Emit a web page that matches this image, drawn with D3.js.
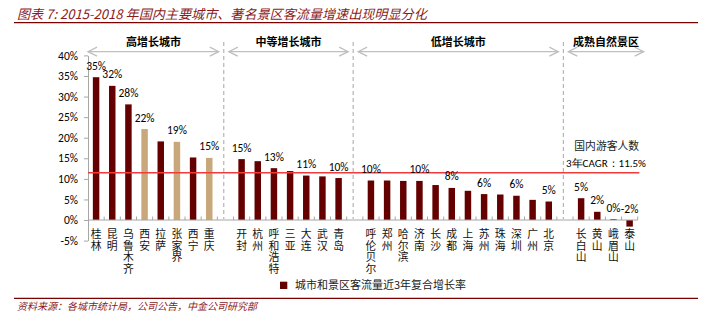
<!DOCTYPE html>
<html><head><meta charset="utf-8">
<script src="https://cdn.jsdelivr.net/npm/d3@7"></script>
<style>body{margin:0;background:#fff}svg{display:block}</style>
</head><body><svg id="c" width="716" height="327"></svg>
<script>
const title = "图表 7: 2015-2018 年国内主要城市、著名景区客流量增速出现明显分化";
const source = "资料来源：各城市统计局，公司公告，中金公司研究部";
const groupNames = ["高增长城市", "中等增长城市", "低增长城市", "成熟自然景区"];
const groupSizes = [8, 7, 12, 4];
const categories = ["桂林","昆明","乌鲁木齐","西安","拉萨","张家界","西宁","重庆",
  "开封","杭州","呼和浩特","三亚","大连","武汉","青岛",
  "呼伦贝尔","郑州","哈尔滨","济南","长沙","成都","上海","苏州","珠海","深圳","广州","北京",
  "长白山","黄山","峨眉山","泰山"];
const values = [34.7,32.6,28.1,22.1,19.1,19.0,15.2,15.1,
  14.8,14.3,12.6,11.9,10.8,10.6,10.2,
  9.6,9.6,9.5,9.5,8.5,7.8,7.1,6.3,6.2,5.9,4.9,4.5,
  5.3,2.0,0.2,-1.6];
const valueLabels = ["35%","32%","28%","22%","","19%","","15%",
  "15%","","13%","","11%","","10%",
  "10%","","","10%","","8%","","6%","","6%","","5%",
  "5%","2%","0%","-2%"];
const tanCategories = ["西安","张家界","重庆"];
const yTicks = [-5,0,5,10,15,20,25,30,35,40];
const refValue = 11.5;
const refNote = ["国内游客人数", "3年CAGR：11.5%"];
const legendLabel = "城市和景区客流量近3年复合增长率";

const CJK = "'Noto Sans CJK SC', sans-serif";
const NUM = "Carlito, Lato, 'Noto Sans', sans-serif";
const maroon = "#640000", tan = "#C8A87A", dark = "#7B0000";

const svg = d3.select("#c");

// slots incl. gaps between groups
const slots = []; let k = 0;
groupSizes.forEach((n, g) => {
  if (g > 0) slots.push({gap: true, key: "gap" + g, group: g});
  for (let i = 0; i < n; i++) { slots.push({key: categories[k], value: values[k], label: valueLabels[k], group: g}); k++; }
});

const x = d3.scaleBand().domain(slots.map(d => d.key)).range([88, 637.7]).padding(0);
const y = d3.scaleLinear().domain([-5, 40]).range([240.6, 55.4]);
const bw = x.bandwidth() * 0.4;

// title & rules
svg.append("text").attr("x", 17).attr("y", 18.5).attr("font-family", CJK).attr("font-style", "italic")
  .attr("font-size", 13.1).attr("fill", "#8B1A1A").text(title);
svg.append("line").attr("x1", 14).attr("x2", 698).attr("y1", 22.7).attr("y2", 22.7).attr("stroke", dark).attr("stroke-width", 1.3);
svg.append("line").attr("x1", 14).attr("x2", 698).attr("y1", 298.3).attr("y2", 298.3).attr("stroke", dark).attr("stroke-width", 1.3);
svg.append("text").attr("x", 17).attr("y", 309.5).attr("font-family", CJK).attr("font-style", "italic")
  .attr("font-size", 10).attr("fill", "#8B1A1A").text(source);

// group dividers and arrows
const gaps = slots.filter(d => d.gap).map(d => x(d.key) + x.bandwidth() * 0.4);
gaps.forEach(gx => {
  svg.append("line").attr("x1", gx).attr("x2", gx).attr("y1", 42).attr("y2", y(0) - 1)
    .attr("stroke", "#A6A6A6").attr("stroke-width", 1).attr("stroke-dasharray", "4,3");
});
const bounds = [x.range()[0] - 5].concat(gaps).concat([x.range()[1] + 11]);
const arrowY = 51.7;
groupNames.forEach((name, g) => {
  const a = bounds[g] + 5, b = bounds[g + 1] - 5;
  const gA = svg.append("g").attr("stroke", "#BFBFBF").attr("stroke-width", 1.3).attr("fill", "none");
  gA.append("line").attr("x1", a).attr("x2", b).attr("y1", arrowY).attr("y2", arrowY);
  gA.append("polyline").attr("points", `${a + 9},${arrowY - 4.5} ${a},${arrowY} ${a + 9},${arrowY + 4.5}`);
  gA.append("polyline").attr("points", `${b - 9},${arrowY - 4.5} ${b},${arrowY} ${b - 9},${arrowY + 4.5}`);
  svg.append("text").attr("x", (a + b) / 2).attr("y", 45.5).attr("text-anchor", "middle")
    .attr("font-family", CJK).attr("font-weight", "bold").attr("font-size", 11).attr("fill", "#000").text(name);
});

// y axis
const yAxis = svg.append("g").attr("transform", `translate(${x.range()[0]},0)`)
  .call(d3.axisLeft(y).tickValues(yTicks).tickSize(4).tickSizeOuter(0).tickFormat(d => d + "%"));
yAxis.select(".domain").attr("stroke", "#A6A6A6");
yAxis.selectAll(".tick line").attr("stroke", "#A6A6A6");
yAxis.selectAll(".tick text").attr("font-family", NUM).attr("font-size", 11.5).attr("fill", "#000").attr("x", -10);

// bars
svg.append("g").selectAll("rect").data(slots.filter(d => !d.gap)).join("rect")
  .attr("x", d => x(d.key) + (x.bandwidth() - bw) / 2)
  .attr("width", bw)
  .attr("y", d => y(Math.max(0, d.value)))
  .attr("height", d => Math.abs(y(d.value) - y(0)))
  .attr("fill", d => tanCategories.includes(d.key) ? tan : maroon);

// x axis line and ticks
const xAxisY = y(0);
svg.append("line").attr("x1", x.range()[0]).attr("x2", x.range()[1]).attr("y1", xAxisY).attr("y2", xAxisY)
  .attr("stroke", "#A6A6A6").attr("stroke-width", 1);
const bnds = x.domain().map(d => x(d)).concat([x.range()[1]]);
svg.append("g").selectAll("line").data(bnds.slice(1)).join("line")
  .attr("x1", d => d).attr("x2", d => d).attr("y1", xAxisY - 3.5).attr("y2", xAxisY)
  .attr("stroke", "#A6A6A6").attr("stroke-width", 1);

// reference line
svg.append("line").attr("x1", x.range()[0]).attr("x2", x.range()[1] + 1.6).attr("y1", y(refValue)).attr("y2", y(refValue))
  .attr("stroke", "#F23A3A").attr("stroke-width", 1.6);
svg.append("text").attr("x", 606.7).attr("y", 150).attr("text-anchor", "middle").attr("font-family", CJK)
  .attr("font-size", 10.8).attr("fill", "#222").text(refNote[0]);
svg.append("text").attr("x", 606).attr("y", 166.5).attr("text-anchor", "middle").attr("font-family", NUM)
  .attr("font-size", 11).attr("fill", "#000").text(refNote[1]);

// value labels
svg.append("g").selectAll("text").data(slots.filter(d => !d.gap && d.label)).join("text")
  .attr("x", d => x(d.key) + x.bandwidth() / 2)
  .attr("y", d => y(Math.max(0, d.value)) - 7.5)
  .attr("text-anchor", "middle").attr("font-family", NUM).attr("font-size", 11.5).attr("fill", "#000")
  .text(d => d.label);

// category labels (vertical writing mode)
svg.append("g").selectAll("text").data(slots.filter(d => !d.gap)).join("text")
  .attr("x", d => x(d.key) + x.bandwidth() / 2)
  .attr("y", 228.8)
  .style("writing-mode", "vertical-rl")
  .style("letter-spacing", "0.6px")
  .attr("font-family", CJK).attr("font-size", 10.8).attr("fill", "#111")
  .text(d => d.key);

// legend
svg.append("rect").attr("x", 280).attr("y", 281.7).attr("width", 7.3).attr("height", 7.3).attr("fill", maroon);
svg.append("text").attr("x", 295).attr("y", 289).attr("font-family", CJK).attr("font-size", 11)
  .attr("fill", "#222").text(legendLabel);
</script></body></html>
